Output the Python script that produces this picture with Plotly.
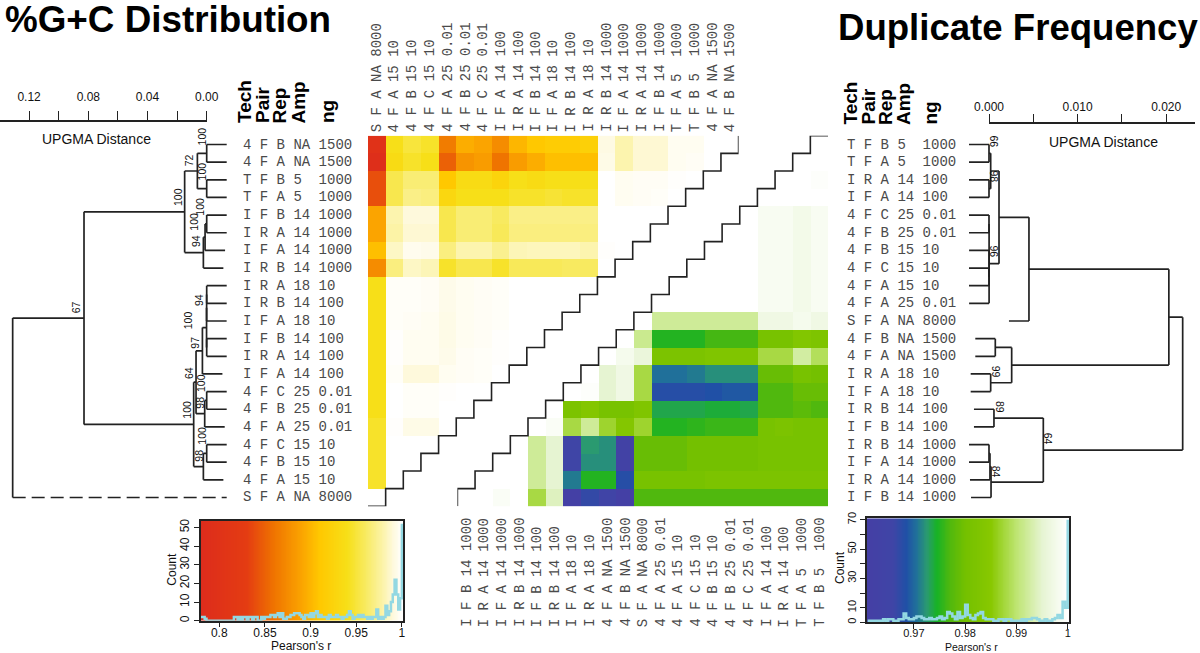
import numpy as np
import plotly.graph_objects as go

W, H = 1200, 653

LEFT_ROWS = [
    ("4","F","B","NA","1500"),("4","F","A","NA","1500"),("T","F","B","5","1000"),("T","F","A","5","1000"),
    ("I","F","B","14","1000"),("I","R","A","14","1000"),("I","F","A","14","1000"),("I","R","B","14","1000"),
    ("I","R","A","18","10"),("I","R","B","14","100"),("I","F","A","18","10"),("I","F","B","14","100"),
    ("I","R","A","14","100"),("I","F","A","14","100"),("4","F","C","25","0.01"),("4","F","B","25","0.01"),
    ("4","F","A","25","0.01"),("4","F","C","15","10"),("4","F","B","15","10"),("4","F","A","15","10"),
    ("S","F","A","NA","8000"),
]
RIGHT_ROWS = [
    ("T","F","B","5","1000"),("T","F","A","5","1000"),("I","R","A","14","100"),("I","F","A","14","100"),
    ("4","F","C","25","0.01"),("4","F","B","25","0.01"),("4","F","B","15","10"),("4","F","C","15","10"),
    ("4","F","A","15","10"),("4","F","A","25","0.01"),("S","F","A","NA","8000"),("4","F","B","NA","1500"),
    ("4","F","A","NA","1500"),("I","R","A","18","10"),("I","F","A","18","10"),("I","R","B","14","100"),
    ("I","F","B","14","100"),("I","R","B","14","1000"),("I","F","A","14","1000"),("I","R","A","14","1000"),
    ("I","F","B","14","1000"),
]
HEADERS = ["Tech", "Pair", "Rep", "Amp", "ng"]

GC_R = [
    [.80,.94,.95,.945,.865,.895,.89,.875,.9,.91,.915,.915,.92,.992,.98,.988,.988,.996,.996,1,1],
    [.79,.935,.945,.94,.85,.88,.885,.86,.885,.895,.905,.905,.905,.993,.98,.988,.988,.996,.997,1],
    [.84,.955,.965,.965,.91,.935,.935,.925,.94,.935,.94,.94,.94,1,.996,.997,.997,.999,1],
    [.84,.955,.97,.968,.93,.94,.94,.94,.945,.945,.948,.945,.945,1,.996,.997,.998,1],
    [.89,.98,.99,.99,.955,.965,.965,.96,.97,.97,.97,.97,.97,1,1,1,1],
    [.89,.978,.988,.988,.955,.965,.965,.958,.968,.968,.968,.968,.968,1,1,1],
    [.905,.985,.995,.994,.968,.98,.98,.972,.982,.983,.983,.983,.98,.999,1],
    [.875,.968,.985,.982,.945,.955,.955,.945,.958,.958,.958,.96,.96,1],
    [.94,.998,.998,.997,.994,.996,.997,.998,1,1,1,1,1],
    [.94,.998,.998,.997,.994,.996,.997,.998,1,1,1,1],
    [.94,.998,.997,.996,.993,.996,.997,.998,1,1,1],
    [.94,.999,.996,.996,.993,.996,.997,.999,1,1],
    [.94,.999,.996,.996,.994,.997,.998,.999,1],
    [.94,.998,.99,.99,.996,.997,.998,1],
    [.94,1,.998,.998,.999,1,1],
    [.94,1,.998,.998,1,1],
    [.945,.999,.993,.993,1],
    [.945,1,1,1],
    [.945,1,1],
    [.945,1],
    [1],
]
DUP_R = [
    [1],
    [1,1],
    [1,1,.9995],
    [1,1,1,1],
    [1,.9985,.9985,.9975,.9985],
    [1,1,.9985,.9985,.9975,.9985],
    [1,1,1,.9985,.9985,.9975,.9985],
    [1,1,1,1,.9985,.9985,.9975,.9985],
    [1,1,1,1,1,.9985,.9985,.9975,.9985],
    [1,1,1,1,1,1,.9985,.9985,.9975,.9985],
    [1,.992,.992,.992,.992,.992,.992,.997,.997,.998,.997],
    [1,.9915,.975,.975,.975,.9765,.9765,.9765,.981,.981,.9835,.9825],
    [1,.998,.996,.982,.982,.982,.983,.983,.983,.988,.988,.9925,.989],
    [1,.995,.997,.988,.9705,.9705,.971,.972,.972,.972,.979,.979,.981,.98],
    [1,.9995,.995,.997,.988,.968,.968,.968,.9685,.969,.969,.977,.977,.979,.979],
    [1,.982,.984,.981,.981,.983,.9735,.9735,.9735,.974,.974,.9735,.977,.977,.978,.977],
    [1,.999,.988,.992,.987,.984,.987,.975,.975,.9755,.976,.976,.976,.981,.982,.981,.981],
    [1,.992,.995,.966,.9725,.972,.963,.979,.979,.979,.98,.98,.98,.98,.981,.981,.981,.981],
    [1,1,.992,.995,.966,.972,.972,.963,.979,.979,.979,.98,.98,.98,.98,.981,.981,.981,.981],
    [1,1,1,.992,.995,.971,.975,.975,.968,.981,.981,.981,.981,.982,.982,.982,.982,.982,.982,.982],
    [1,1,.999,1,.988,.994,.962,.967,.965,.962,.977,.977,.977,.977,.977,.977,.977,.977,.977,.977,.977],
]

GC_COLOR_R = [.78,.83,.86,.89,.91,.94,.96,.98,.99,1]
GC_COLORS = ["#dd2c1c","#e43c12","#ef7400","#fba400","#ffc800","#f7df18","#f8ea60","#fcf4ae","#fef9dc","#ffffff"]
DUP_COLOR_R = [.9608,.966,.9685,.9705,.9725,.9745,.977,.98,.985,.99,.995,1]
DUP_COLORS = ["#453fa5","#3f45a6","#2050a6","#20709a","#2a9a70","#18b226","#50b80e","#74c000","#88c800","#bee572","#e6f4d2","#ffffff"]

GC_COUNTS = [2,2,1,0,0,0,0,0,0,0, 0,0,0,0,0,0,0,0,2,2, 0,2,0,2,2,0,2,2,0,2, 2,0,0,2,1,2,2,2,3,3,
             2,3,4,2,4,1,1,2,2,3, 3,4,4,4,3,2,1,3,3,2, 4,2,4,5,2,3,2,2,2,1, 3,2,2,2,3,2,2,1,2,2,
             3,5,3,1,2,2,3,2,3,2, 2,1,2,1,2,2,6,1,2,1, 2,8,3,5,10,14,22,14,6,12, 52]
DUP_COUNTS = [1,1,1,1,1,1, 2,1,2,2, 1,1,2,2, 6,3,2,2, 3,4,4,3, 2,2,3,2, 2,3,4,2, 3,7,6,4, 2,7,3,4,
              12,5,3,2, 5,6,7,3, 2,2,2,1, 1,2,2,1, 2,2,1,1, 1,1,2,1, 2,2,3,3, 2,1,1,2, 1,1,2,3, 5,3,14,10, 70]

# dendrograms: (height, child, child), an integer child is a row
a = (0, 0, 1); T = (0, 2, 3); n1 = (.0063, a, T)
I3 = (.00225, (.0011, (0, 4, 5), 6), 7)
A = (.0149, n1, I3)
B5 = (.0029, (.0001, (.00005, (0, 8, 9), 10), (0, 11, 12)), 13)
C2 = (.00135, (0, 14, 15), 16)
D2 = (.00225, (0, 17, 18), 19)
B = (.0088, (.0072, B5, C2), D2)
LEFT_TREE = (.1311, (.0829, A, B), 20)

t3 = (.00019, (0, 0, 1), (0, 2, 3))
cl = (.00005, (.00001, (0, 4, 5), 9), (.00001, 6, (0, 7, 8)))
n2 = (.00451, (.00113, t3, cl), 10)
n4 = (.00256, (.00071, 11, 12), (.00019, 13, 14))
n3 = (.0203, n2, n4)
n5 = (.00613, (.00056, 15, 16), (.00023, (.00011, (0, 17, 18), 19), 20))
RIGHT_TREE = (.02186, n3, n5)

LEFT_BOOT = [(201.7,136.7,"100"),(189.3,160,"72"),(201.7,171.7,"100"),(177.3,196.7,"100"),(200,206.7,"100"),
             (194,221.7,"100"),(196,241,"94"),(199,300,"94"),(188.3,320,"100"),(195,342.7,"97"),(188.3,372.7,"64"),
             (201.7,383.3,"100"),(200,402.7,"98"),(186.7,410,"100"),(201.7,436,"100"),(199,455.7,"98"),(76,307.3,"67")]
RIGHT_BOOT = [(994.3,141.7,"66"),(994.3,176.7,"98"),(994.3,251.7,"96"),(996,371.7,"99"),(999.3,407.3,"89"),
              (1048.3,439,"64"),(996,471.7,"84")]

SANS = "Liberation Sans"
MONO = "Liberation Mono"
INK = "#222222"
HIST = "#93d8e2"


def px(x):
    return x / W


def py(y):
    return 1 - y / H


def scale(rs, colors):
    lo, hi = rs[0], rs[-1]
    return [[(r - lo) / (hi - lo), c] for r, c in zip(rs, colors)]


def label(row):
    t, p, r, amp, ng = row
    return f"{t} {p} {r} {amp:<2} {ng}".replace(" ", "\u00a0")


TOP_Y, BOT_Y = 135.7, 506.3
GC_X = (368.0, 738.6)
DUP_X = (457.4, 828.0)
n = len(LEFT_ROWS)

gc_z = [row + [None] * (n - len(row)) for row in GC_R]
dup_z = [[None] * (n - len(row)) + row for row in DUP_R]
idx = list(range(n))

gc_scale = scale(GC_COLOR_R, GC_COLORS)
dup_scale = scale(DUP_COLOR_R, DUP_COLORS)

fig = go.Figure()
fig.add_trace(go.Heatmap(z=gc_z, x=idx, y=idx, colorscale=gc_scale, zmin=GC_COLOR_R[0], zmax=1,
                         showscale=False, hoverinfo="skip", xaxis="x", yaxis="y"))
fig.add_trace(go.Heatmap(z=dup_z, x=idx, y=idx, colorscale=dup_scale, zmin=DUP_COLOR_R[0], zmax=1,
                         showscale=False, hoverinfo="skip", xaxis="x2", yaxis="y2"))

# staircases along both diagonals
sx, sy = [n - .5], [-.5]
for i in range(n):
    sx += [n - i - .5, n - i - 1.5]
    sy += [i + .5, i + .5]
fig.add_trace(go.Scatter(x=sx, y=sy, mode="lines", line=dict(color=INK, width=1.6), cliponaxis=False,
                         hoverinfo="skip", xaxis="x", yaxis="y"))
sx, sy = [n - .5], [-.5]
for i in range(n):
    sx += [n - i - 1.5, n - i - 1.5]
    sy += [i - .5, i + .5]
fig.add_trace(go.Scatter(x=sx, y=sy, mode="lines", line=dict(color=INK, width=1.6), cliponaxis=False,
                         hoverinfo="skip", xaxis="x2", yaxis="y2"))


def tree_segments(node, hang, dashed=()):
    xs, ys, dx, dy = [], [], [], []

    def walk(nd):
        h, c1, c2 = nd
        pts = []
        for c in (c1, c2):
            if isinstance(c, int):
                if c in dashed:
                    dx.extend([h, -hang])
                    dy.extend([c, c])
                else:
                    xs.extend([h, h - hang, None])
                    ys.extend([c, c, None])
                pts.append(c)
            else:
                yc, hc = walk(c)
                xs.extend([hc, h, None])
                ys.extend([yc, yc, None])
                pts.append(yc)
        xs.extend([h, h, None])
        ys.extend([pts[0], pts[1], None])
        return (pts[0] + pts[1]) / 2, h

    walk(node)
    return xs, ys, dx, dy


L_SCALE = 1480.0   # px per unit distance
R_SCALE = 8860.0
lx, ly, ldx, ldy = tree_segments(LEFT_TREE, 20 / L_SCALE, dashed=(20,))
rx, ry, _, _ = tree_segments(RIGHT_TREE, 20 / R_SCALE)

fig.add_trace(go.Scatter(x=lx, y=ly, mode="lines", line=dict(color=INK, width=1.7), hoverinfo="skip",
                         xaxis="x3", yaxis="y3"))
fig.add_trace(go.Scatter(x=ldx, y=ldy, mode="lines", line=dict(color=INK, width=1.7, dash="13px,6px"),
                         hoverinfo="skip", xaxis="x3", yaxis="y3"))
fig.add_trace(go.Scatter(x=rx, y=ry, mode="lines", line=dict(color=INK, width=1.7), hoverinfo="skip",
                         xaxis="x4", yaxis="y4"))

# histogram panels
gc_x = [.78 + .002 * i for i in range(len(GC_COUNTS))]
dup_x = [.961 + .0005 * i for i in range(len(DUP_COUNTS))]
gc_ymax, dup_ymax = 53.6, 71.0
ramp_gc = np.linspace(.78, 1, 240)
ramp_dup = np.linspace(.9608, 1, 240)
fig.add_trace(go.Heatmap(z=[ramp_gc], x=ramp_gc, y0=gc_ymax / 2, dy=gc_ymax, colorscale=gc_scale,
                         zmin=GC_COLOR_R[0], zmax=1, showscale=False, hoverinfo="skip", xaxis="x5", yaxis="y5"))
fig.add_trace(go.Scatter(x=gc_x, y=GC_COUNTS, mode="lines", line=dict(color=HIST, width=2.5, shape="hv"),
                         hoverinfo="skip", xaxis="x5", yaxis="y5"))
fig.add_trace(go.Heatmap(z=[ramp_dup], x=ramp_dup, y0=dup_ymax / 2, dy=dup_ymax, colorscale=dup_scale,
                         zmin=DUP_COLOR_R[0], zmax=1, showscale=False, hoverinfo="skip", xaxis="x6", yaxis="y6"))
fig.add_trace(go.Scatter(x=dup_x, y=DUP_COUNTS, mode="lines", line=dict(color=HIST, width=2.5, shape="hv"),
                         hoverinfo="skip", xaxis="x6", yaxis="y6"))

# invisible carriers for the two distance rulers
fig.add_trace(go.Scatter(x=[0, .12], y=[0, 0], mode="lines", line=dict(color="rgba(0,0,0,0)"), hoverinfo="skip",
                         xaxis="x7", yaxis="y7"))
fig.add_trace(go.Scatter(x=[0, .02], y=[0, 0], mode="lines", line=dict(color="rgba(0,0,0,0)"), hoverinfo="skip",
                         xaxis="x8", yaxis="y8"))

hidden = dict(visible=False, showgrid=False, zeroline=False, fixedrange=True, automargin=False)
row_range = [n - .5, -.5]
row_dom = [py(BOT_Y), py(TOP_Y)]
font12 = dict(family=SANS, size=12, color="#111111")
font11 = dict(family=SANS, size=11, color="#111111")


def hist_x(dom, rng, vals, text, font, anchor):
    return dict(domain=[px(dom[0]), px(dom[1])], range=rng, tickmode="array", tickvals=vals, ticktext=text, anchor=anchor,
                ticks="outside", ticklen=5, tickwidth=1.3, tickcolor=INK, showline=True, linecolor=INK, linewidth=1.5,
                mirror=True, showgrid=False, zeroline=False, tickfont=font, tickangle=0, fixedrange=True, automargin=False,
                ticklabelstandoff=-5)


def hist_y(dom, rng, vals, text, font, anchor):
    return dict(domain=[py(dom[1]), py(dom[0])], range=rng, tickmode="array", tickvals=vals, ticktext=text, anchor=anchor,
                ticks="outside", ticklen=5, tickwidth=1.3, tickcolor=INK, showline=True, linecolor=INK, linewidth=1.5,
                mirror=True, showgrid=False, zeroline=False, tickfont=font, tickangle=-90, fixedrange=True, automargin=False)


fig.update_layout(
    template="none",
    width=W, height=H, autosize=False, margin=dict(l=0, r=0, t=0, b=0, pad=0), showlegend=False,
    paper_bgcolor="white", plot_bgcolor="rgba(0,0,0,0)",
    xaxis=dict(domain=[px(GC_X[0]), px(GC_X[1])], range=[-.5, n - .5], anchor="y", **hidden),
    yaxis=dict(domain=row_dom, range=row_range, anchor="x", **hidden),
    xaxis2=dict(domain=[px(DUP_X[0]), px(DUP_X[1])], range=[-.5, n - .5], anchor="y2", **hidden),
    yaxis2=dict(domain=row_dom, range=row_range, anchor="x2", **hidden),
    xaxis3=dict(domain=[0, px(240)], range=[206.7 / L_SCALE, (206.7 - 240) / L_SCALE], anchor="y3", **hidden),
    yaxis3=dict(domain=row_dom, range=row_range, anchor="x3", **hidden),
    xaxis4=dict(domain=[px(950), 1], range=[(950 - 989) / R_SCALE, (1200 - 989) / R_SCALE], anchor="y4", **hidden),
    yaxis4=dict(domain=row_dom, range=row_range, anchor="x4", **hidden),
    xaxis5=hist_x((201, 403), [.78, 1.0012], [.8, .85, .9, .95, 1], ["0.8", "0.85", "0.9", "0.95", "1"], font12, "y5"),
    yaxis5=hist_y((520.7, 620.7), [0, gc_ymax], [0, 10, 20, 30, 40, 50], ["0", "10", "20", "30", "40", "50"], font12, "x5"),
    xaxis6=hist_x((866.7, 1069), [.9608, 1.00025], [.97, .98, .99, 1], ["0.97", "0.98", "0.99", "1"], font11, "y6"),
    yaxis6=hist_y((518.3, 622.3), [0, dup_ymax], [0, 10, 20, 30, 40, 50, 60, 70],
                  ["0", "10", "", "30", "", "50", "", "70"], font11, "x6"),
    xaxis7=dict(domain=[0, px(206.7)], range=[206.7 / L_SCALE, 0], anchor="free", position=py(121), side="top",
                tickmode="array", tickvals=[.12, .10, .08, .06, .04, .02, 0],
                ticktext=["0.12", "", "0.08", "", "0.04", "", "0.00"], ticks="outside", ticklen=9, tickwidth=1.4,
                tickcolor=INK, showline=True, linecolor=INK, linewidth=1.5, showgrid=False, zeroline=False,
                tickfont=font12, tickangle=0, ticklabelstandoff=5, fixedrange=True, automargin=False),
    yaxis7=dict(domain=row_dom, range=[-1, 1], anchor="x7", **hidden),
    xaxis8=dict(domain=[px(989), px(1195)], range=[0, 206 / R_SCALE], anchor="free", position=py(122.7), side="top",
                tickmode="array", tickvals=[0, .005, .01, .015, .02],
                ticktext=["0.000", "", "0.010", "", "0.020"], ticks="outside", ticklen=8, tickwidth=1.4,
                tickcolor=INK, showline=True, linecolor=INK, linewidth=1.5, showgrid=False, zeroline=False,
                tickfont=font12, tickangle=0, ticklabelstandoff=-2, fixedrange=True, automargin=False),
    yaxis8=dict(domain=row_dom, range=[-1, 1], anchor="x8", **hidden),
)


def note(x, y, text, size, family=SANS, color="#111111", angle=0, xa="center", ya="middle", bold=False):
    fig.add_annotation(x=px(x), y=py(y), xref="paper", yref="paper", text=f"<b>{text}</b>" if bold else text,
                       showarrow=False, xanchor=xa, yanchor=ya, textangle=angle, borderpad=0, borderwidth=0,
                       font=dict(family=family, size=size, color=color))


note(5, 19, "%G+C Distribution", 36.8, xa="left", bold=True, color="#000000")
note(838, 28, "Duplicate Frequency", 36.6, xa="left", bold=True, color="#000000")
note(96, 139, "UPGMA Distance", 14)
note(1103, 142, "UPGMA Distance", 14)

ROW_H = (BOT_Y - TOP_Y) / n
CELL_W = (GC_X[1] - GC_X[0]) / n
MONO_COL = "#4a4a4a"
for i in range(n):
    yc = TOP_Y + ROW_H * (i + .5)
    note(243, yc, label(LEFT_ROWS[i]), 14, family=MONO, color=MONO_COL, xa="left")
    note(847, yc, label(RIGHT_ROWS[i]), 14, family=MONO, color=MONO_COL, xa="left")
    note(GC_X[0] + CELL_W * (i + .5), 132, label(LEFT_ROWS[n - 1 - i]), 14, family=MONO, color=MONO_COL,
         angle=-90, ya="bottom")
    note(DUP_X[0] + CELL_W * (i + .5), 627, label(RIGHT_ROWS[n - 1 - i]), 14, family=MONO, color=MONO_COL,
         angle=-90, ya="bottom")

for x, h in zip((244, 262, 279, 298, 327), HEADERS):
    note(x, 123.5, h, 19, angle=-90, ya="bottom", bold=True, color="#000000")
for x, h in zip((850, 868, 886, 904, 930), HEADERS):
    note(x, 125, h, 19, angle=-90, ya="bottom", bold=True, color="#000000")

for x, y, t in LEFT_BOOT:
    note(x, y, t, 10.5, angle=-90)
for x, y, t in RIGHT_BOOT:
    note(x, y, t, 10.5, angle=90)

note(171.7, 569, "Count", 12, angle=-90)
note(840, 568, "Count", 12, angle=-90)
note(301, 645.5, "Pearson's r", 12)
note(971.7, 646.5, "Pearson's r", 10.5)

fig.write_html("out.html", config=dict(displayModeBar=False),
               post_script="document.body.style.margin='0';document.body.style.overflow='hidden';")
